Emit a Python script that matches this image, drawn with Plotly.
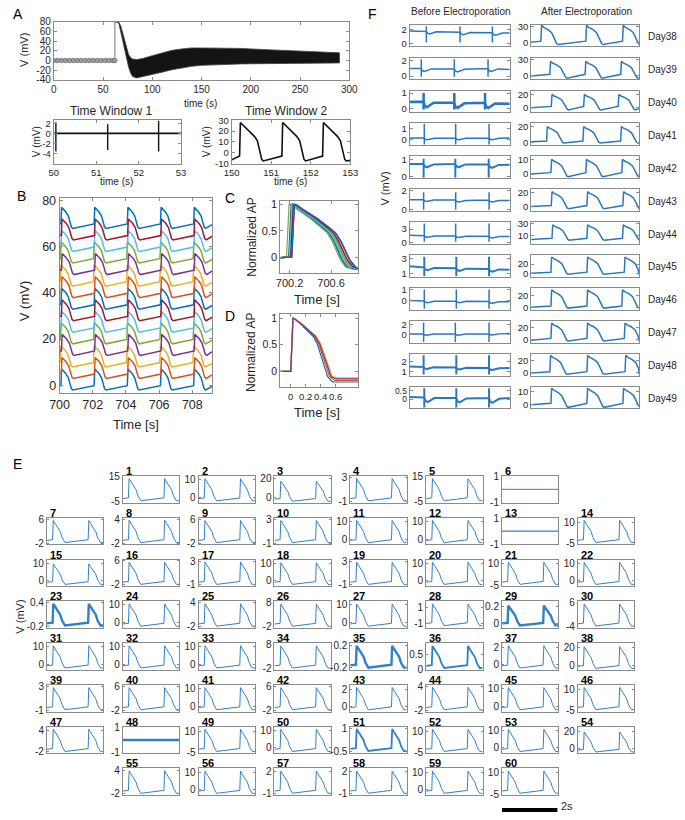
import plotly.graph_objects as go

W, H = 685, 820
FONT = "Liberation Sans, Arial, Helvetica, sans-serif"
TXT = "#262626"
AXC = "#8a8a8a"
FBLUE = "#2878be"
EBLUE = "#2f80c6"
MCOL = ["#0072BD", "#D95319", "#EDB120", "#7E2F8E", "#77AC30", "#4DBEEE", "#A2142F"]

# ---------------- Panel A : overview ----------------
A_pre_t = [0, 4, 8, 12, 16, 20, 24, 28, 32, 36, 40, 44, 48, 52, 56, 60, 62]
A_pre_v = [0, 0, 0, 0, 0, 0, 0, 0, 0, 0, 0, 0, 0, 0, 0, 0, 0]
A_jump_t = [62, 62, 66.5]
A_jump_v = [0, 79, 79]
A_env_t = [64, 66, 68, 70, 72, 74, 76, 78, 80, 84, 90, 100, 110, 120, 130, 140, 150, 170, 190, 210, 230, 250, 270, 290]
A_env_hi = [79, 79, 72, 56, 38, 22, 12, 6, 3, 2, 4, 10, 16, 21, 24, 26, 26, 26, 25, 23, 21, 19, 17, 16]
A_env_lo = [79, 77, 58, 40, 22, 4, -14, -26, -33, -36, -34, -29, -24, -19, -15, -12, -10, -8, -7, -6.5, -6, -5.5, -5, -5]
A_xticks = [0, 50, 100, 150, 200, 250, 300]
A_yticks = [-40, -20, 0, 20, 40, 60, 80]

# Time window 1
W1_spike_t = [50.05, 51.27, 52.47]
W1_spike_top = [2.2, 1.8, 2.5]
W1_spike_bot = [-3.6, -3.3, -3.6]
W1_base_t = [50, 53]
W1_base_v = [0, 0]
W1_xticks = [50, 51, 52, 53]
W1_yticks = [-4, -2, 0, 2]

# Time window 2
W2_ups = [150.2, 151.27, 152.3]
W2_beat_dt = [0, 0.02, 0.1, 0.25, 0.38, 0.45, 0.5, 0.56, 0.6]
W2_beat_v = [-3, 28, 25, 20, 15, 11, 3, -6, -7.5]
W2_start, W2_end = -6.5, -7
W2_xticks = [150, 151, 152, 153]
W2_yticks = [-10, 0, 10, 20, 30]

# ---------------- Panel B ----------------
B_base = [0, 5, 10, 15, 20, 25, 30, 35, 40, 45, 50, 55, 60, 65, 70]
B_ups = [700.08, 702.08, 704.08, 706.08, 708.08]
B_beat_dt = [0, 0.04, 0.12, 0.3, 0.45, 0.55, 0.63, 0.72]
B_beat_dv = [0, 7.0, 6.4, 5.0, 3.2, 0.5, -1.5, -2.1]
B_pre_dv = -0.2
B_shift = [0.0, 0.02, -0.04, 0.03, -0.03, 0.01, 0.02, 0.0, 0.02, -0.04, 0.03, -0.03, 0.01, 0.02, 0.0]
B_stretch = [1.0, 1.02, 1.05, 1.06, 1.05, 1.0, 1.03, 1.0, 1.02, 1.05, 1.06, 1.05, 1.0, 1.03, 1.0]
B_xticks = [700, 702, 704, 706, 708]
B_yticks = [0, 20, 40, 60, 80]

# ---------------- Panel C ----------------
C_up = [700.2, 700.21, 700.2, 700.22, 700.17, 700.21, 700.2, 700.19, 700.21, 700.2, 700.22, 700.21, 700.2, 700.21, 700.22]
C_stretch = [0.95, 0.97, 1.0, 1.05, 0.98, 0.96, 1.04, 0.97, 1.0, 1.02, 1.06, 0.99, 0.98, 1.03, 1.05]
C_beat_dt = [0, 0.025, 0.05, 0.12, 0.24, 0.34, 0.4, 0.45, 0.49, 0.53, 0.58, 0.65]
C_beat_v = [0, 1.0, 0.98, 0.88, 0.72, 0.56, 0.46, 0.3, 0.12, -0.05, -0.18, -0.22]
C_xticks = [700.2, 700.6]
C_yticks = [0, 0.5, 1]

# ---------------- Panel D ----------------
D_colors = ["#0072BD", "#D95319", "#EDB120", "#7E2F8E"]
D_stretch = [0.93, 0.98, 1.05, 1.02]
D_end = [-0.2, -0.17, -0.12, -0.14]
D_beat_dt = [0, 0.03, 0.06, 0.15, 0.25, 0.32, 0.38, 0.43, 0.48, 0.53, 0.6]
D_beat_v = [0, 1.0, 0.98, 0.88, 0.76, 0.66, 0.52, 0.32, 0.08, -0.1, -0.16]
D_xticks = [0, 0.2, 0.4, 0.6]
D_yticks = [0, 0.5, 1]

# ---------------- Panel F ----------------
F_days = ["Day38", "Day39", "Day40", "Day41", "Day42", "Day43", "Day44", "Day45", "Day46", "Day47", "Day48", "Day49"]
F_L_ticks = [[0, 2], [0, 2], [0, 1], [0, 1], [0, 1], [0, 2], [0, 3], [1, 3], [0, 1], [0, 2], [1, 2], [0, 0.5]]
F_L_range = [[-0.35, 2.7], [-0.43, 2.43], [-0.26, 1.17], [-0.5, 1.5], [-0.08, 1.19], [-0.17, 2.17],
             [-0.36, 4.57], [0.59, 3.41], [-0.83, 1.11], [-1.75, 2.75], [0.57, 2.83], [-0.56, 0.74]]
F_L_spk_t = [[0.5, 1.51, 2.48], [0.35, 1.34, 2.35], [0.42, 1.34, 2.26], [0.44, 1.38, 2.38],
             [0.42, 1.37, 2.37], [0.42, 1.38, 2.38], [0.44, 1.38, 2.38], [0.44, 1.4, 2.38],
             [0.44, 1.4, 2.38], [0.42, 1.37, 2.38], [0.42, 1.4, 2.38], [0.44, 1.4, 2.38]]
F_L_base = [[1.8, 1.75, 1.65, 1.58, 1.55], [1.0, 1.0, 0.95, 1.0, 0.85], [0.42, 0.42, 0.38, 0.37, 0.3],
            [0.15, 0.15, 0.15, 0.15, 0.15], [0.75, 0.75, 0.75, 0.72, 0.7], [1.05, 1.05, 1.0, 1.0, 0.95],
            [1.6, 1.5, 1.45, 1.35, 1.3], [1.95, 1.8, 1.7, 1.6, 1.5], [0.0, -0.05, -0.05, -0.1, -0.12],
            [0.05, 0.05, 0.05, 0.1, 0.15], [1.5, 1.45, 1.4, 1.35, 1.35], [0.12, 0.1, 0.08, 0.06, 0.07]]
F_L_dip = [0.35, 0.4, 0.35, 0.15, 0.2, 0.2, 0.35, 0.35, 0.15, 0.25, 0.2, 0.28]
F_L_top = [2.5, 2.2, 1.0, 1.45, 1.05, 1.85, 4.3, 3.2, 0.97, 2.4, 2.67, 0.65]
F_L_bot = [0.2, -0.1, -0.08, -0.45, -0.05, -0.05, 0.15, 0.65, -0.75, -1.6, 0.67, -0.5]
F_L_lw = [1.5, 1.5, 2.6, 1.5, 2.0, 1.5, 1.5, 2.0, 1.5, 1.5, 2.0, 2.0]
F_dip_dt = [0.03, 0.1, 0.3]
F_dip_frac = [0.7, 1.0, 0.15]

F_R_ticks = [[0, 30], [0, 30], [0, 20], [0, 20], [0, 10], [0, 20], [10, 30], [0, 20], [0, 20], [0, 20], [0, 20], [0, 10]]
F_R_range = [[-8, 33.3], [-7.2, 33], [-7, 26.5], [-3.75, 24], [-2.7, 12.2], [-5.5, 24.3],
             [-4.2, 32], [-6.7, 39], [-4.2, 32.6], [-5, 31], [-4, 30], [-2.8, 13.5]]
F_R_ups = [[0.27, 1.52, 2.54], [0.52, 1.5, 2.49], [0.56, 1.46, 2.42], [0.43, 1.44, 2.49],
           [0.55, 1.52, 2.52], [0.56, 1.55, 2.55], [0.58, 1.55, 2.54], [0.55, 1.55, 2.59],
           [0.55, 1.55, 2.52], [0.55, 1.55, 2.59], [0.52, 1.55, 2.61], [0.55, 1.55, 2.55]]
F_R_start = [0, -1, 0, 0.5, 0, 0.5, 3, 1, 0, -1, 0, 0]
F_R_pre = [2, 2, 2, 1.5, 1, 2, 5, 3, 2, 2, 2, 1]
F_R_peak = [32, 26, 20.5, 20, 10.2, 21, 27.5, 35, 29.5, 27.5, 27.5, 12.3]
F_R_trough = [-4.5, -5, -3.5, -1, -1.8, -2.5, 2, -1.5, -1.5, -2.5, -2, -2]
F_R_end = [-4, -4, -1.5, -1, -1.8, -2.5, 2, -1.5, -1.5, -2, -2, -1.5]
F_beat_dt = [0, 0.02, 0.08, 0.2, 0.3, 0.38, 0.44, 0.48]
F_beat_s = [0, 1.0, 0.9, 0.78, 0.62, 0.3, 0.05, 0.0]

# ---------------- Panel E ----------------
E_tick_lo = [-5, 0, 0, -1, -5, -1,
             -2, -2, -2, -1, 0, 0, -1, -5,
             0, -2, -1, 0, -1, 0, -5, 0,
             -0.2, 0, -2, -2, 0, -1, 0, -4,
             0, 0, 0, -2, -0.2, 0, 0, 0,
             -1, -2, 0, -2, 0, -2, 0, -5,
             -2, -1, -5, 0, -0.5, -5, 0, 0,
             -2, 0, -1, -1, 0, -5]
E_tick_hi = [15, 10, 20, 3, 15, 1,
             6, 4, 6, 3, 10, 10, 1, 10,
             10, 6, 3, 10, 3, 10, 10, 10,
             0.4, 10, 4, 8, 10, 1, 0.2, 6,
             10, 10, 10, 8, 0.2, 0.5, 2, 20,
             3, 6, 10, 6, 2, 4, 10, 10,
             4, 1, 10, 10, 1, 10, 10, 20,
             4, 10, 2, 2, 10, 10]
E_ylo = [-5.5, -3, -5.5, -1.2, -5.5, -1.03,
         -2.4, -2.3, -2.4, -1.2, -3, -3, -1.03, -5.5,
         -3, -2.4, -1.2, -3, -1.2, -3, -5.5, -3,
         -0.23, -3, -2.3, -2.4, -3, -1.6, -0.05, -4.4,
         -3, -3, -3, -2.4, -0.25, -0.01, -0.6, -5,
         -1.2, -2.4, -3, -2.4, -0.6, -2.3, -3, -5.5,
         -2.5, -1.03, -5.5, -3, -0.6, -5.5, -3, -5,
         -2.3, -3, -1.15, -1.15, -3, -5.5]
E_yhi = [15.5, 12, 23, 3.2, 15.5, 1.03,
         6.4, 4.4, 6.4, 3.3, 12, 12, 1.03, 13,
         12, 6.4, 3.3, 12, 3.3, 12, 13, 12,
         0.43, 12, 4.4, 8.4, 12, 1.8, 0.26, 6.4,
         12, 12, 12, 8.4, 0.25, 0.9, 2.5, 25,
         3.3, 6.4, 12, 6.4, 2.5, 4.4, 12, 13,
         5, 1.03, 13, 12, 1.15, 13, 12, 25,
         4.4, 12, 2.4, 2.4, 12, 13]
E_peak = [13.4, 10.5, 17.5, 2.8, 13.4, 0,
          5.5, 3.8, 5.5, 2.85, 10.5, 10.5, 0, 11.2,
          9.5, 5.5, 2.9, 10.2, 2.85, 10.5, 11.2, 10.5,
          0.37, 10.5, 3.8, 7.3, 10.5, 1.45, 0.21, 5.3,
          10.5, 10.5, 10.5, 7.3, 0.2, 0.8, 2.2, 21,
          2.85, 5.5, 10.5, 5.5, 2.2, 3.8, 10.5, 11.2,
          4.3, 0, 11.2, 10.5, 1.0, 11.2, 10.5, 19,
          3.8, 10.5, 2.05, 2.05, 10.5, 11.2]
E_trough = [-4.0, -2.0, -4.0, -0.9, -4.0, 0,
            -1.8, -1.85, -1.8, -0.9, -2.0, -2.0, 0, -4.2,
            -2.0, -1.8, -0.9, -2.0, -0.9, -2.0, -4.2, -2.0,
            -0.17, -2.0, -1.85, -1.7, -2.0, -1.3, -0.02, -3.6,
            -2.0, -2.0, -2.0, -1.7, -0.21, 0.05, -0.4, -3.5,
            -0.9, -1.8, -2.0, -1.8, -0.4, -1.85, -2.0, -4.2,
            -2.0, 0, -4.2, -2.0, -0.45, -4.2, -2.0, -3.5,
            -1.85, -2.0, -0.9, -0.9, -2.0, -4.2]
E_flat = [6, 13, 48]
E_lw = {23: 2.4, 29: 2.4, 35: 2.4, 36: 1.8, 51: 1.8, 48: 2.4, 6: 1.0, 13: 1.2}
E_ups = [0.2, 1.46]
E_beat_dt = [0, 0.025, 0.08, 0.18, 0.27, 0.34, 0.4, 0.44]
E_beat_s = [0.13, 1.0, 0.88, 0.7, 0.5, 0.22, 0.04, 0.0]
E_start_s, E_end_s = 0.1, 0.0

# ======================================================================
layout = dict(width=W, height=H, autosize=False, margin=dict(l=0, r=0, t=0, b=0, pad=0),
              paper_bgcolor="white", plot_bgcolor="white", showlegend=False,
              font=dict(family=FONT, color=TXT, size=10))
traces, annotations, shapes = [], [], []
naxes = [0]


def fmt(v):
    return "%g" % v


def add_axes(x0, x1, y0, y1, xr, yr, xt=None, yt=None, fs=10, tl=3, xfs=None):
    naxes[0] += 1
    n = naxes[0]
    sfx = "" if n == 1 else str(n)

    def base(size):
        return dict(showgrid=False, zeroline=False, showline=True, linecolor=AXC, linewidth=1,
                    mirror="ticks", ticks="inside", ticklen=tl, tickwidth=1, tickcolor=AXC,
                    tickfont=dict(size=size, color=TXT, family=FONT), fixedrange=True,
                    tickmode="array", tickangle=0)
    xa, ya = base(xfs if xfs else fs), base(fs)
    xa.update(domain=[x0 / W, x1 / W], range=list(xr), anchor="y" + sfx)
    ya.update(domain=[1 - y1 / H, 1 - y0 / H], range=list(yr), anchor="x" + sfx)
    if xt is None:
        xa.update(tickvals=[], showticklabels=False)
    else:
        xa.update(tickvals=list(xt), ticktext=[fmt(v) for v in xt])
    if yt is None:
        ya.update(tickvals=[], showticklabels=False)
    else:
        ya.update(tickvals=list(yt), ticktext=[fmt(v) for v in yt])
    layout["xaxis" + sfx] = xa
    layout["yaxis" + sfx] = ya
    return ("x" + sfx, "y" + sfx)


def line(ax, xs, ys, color, width=1.0, **kw):
    d = dict(x=xs, y=ys, xaxis=ax[0], yaxis=ax[1], mode="lines",
             line=dict(color=color, width=width), hoverinfo="skip")
    d.update(kw)
    traces.append(go.Scatter(**d))


def train(t0, t1, v0, v1, ups, beat_dt, beat_v):
    xs, ys = [t0], [v0]
    for u in ups:
        for dt, v in zip(beat_dt, beat_v):
            if t0 <= u + dt < t1:
                xs.append(u + dt)
                ys.append(v)
    xs.append(t1)
    ys.append(v1)
    return xs, ys


def text(x, y, s, size=11, color="#000000", xa="center", ya="middle", angle=0, bold=False, yshift=0):
    annotations.append(dict(x=x / W, y=1 - y / H, xref="paper", yref="paper",
                            text=("<b>%s</b>" % s) if bold else s, showarrow=False,
                            font=dict(size=size, color=color, family=FONT),
                            xanchor=xa, yanchor=ya, textangle=angle, yshift=yshift))


# ---------------- Panel A ----------------
ax = add_axes(45, 349, 16, 75, [0, 300], [-40, 80], A_xticks, A_yticks, fs=10)
line(ax, A_pre_t, A_pre_v, "#333333", 1.0, mode="lines+markers",
     marker=dict(symbol="circle", size=4.5, color="#a0a0a0", line=dict(color="#555555", width=0.6)))
line(ax, A_jump_t, A_jump_v, "#9a9a9a", 1.4)
line(ax, A_env_t + A_env_t[::-1], A_env_hi + A_env_lo[::-1], "#444444", 0.8,
     fill="toself", fillcolor="#141414")
text(8, 8, "A", 14)
text(15, 45, "V (mV)", 11, TXT, angle=-90)
text(196, 99, "time (s)", 10, TXT)

ax = add_axes(45, 176, 116, 160, [50, 53], [-6, 2.6], W1_xticks, W1_yticks, fs=9.5)
line(ax, W1_base_t, W1_base_v, "#111111", 1.6)
sx, sy = [], []
for t, a, b in zip(W1_spike_t, W1_spike_top, W1_spike_bot):
    sx += [t, t, None]
    sy += [b, a, None]
line(ax, sx, sy, "#111111", 1.4)
text(104, 107, "Time Window 1", 12, TXT)
text(28, 138, "V (mV)", 10, TXT, angle=-90)
text(110, 178, "time (s)", 10, TXT)

ax = add_axes(228, 350, 116, 160, [150, 153], [-10, 30], W2_xticks, W2_yticks, fs=9.5)
xs, ys = train(150, 153, W2_start, W2_end, W2_ups, W2_beat_dt, W2_beat_v)
line(ax, xs, ys, "#111111", 1.6)
text(284, 107, "Time Window 2", 12, TXT)
text(203, 138, "V (mV)", 10, TXT, angle=-90)
text(289, 178, "time (s)", 10, TXT)

# ---------------- Panel B ----------------
ax = add_axes(51, 208, 195, 393, [700, 709.2], [-3.5, 81], B_xticks, B_yticks, fs=12.5)
for i, b in enumerate(B_base):
    dts = [d * B_stretch[i] for d in B_beat_dt]
    vals = [b + B_pre_dv] + [b + v for v in B_beat_dv[1:]]
    ups = [u + B_shift[i] for u in B_ups]
    xs, ys = train(700, 709.2, b, b - 0.5, ups, dts, vals)
    line(ax, xs, ys, MCOL[i % 7], 1.5)
text(12, 193, "B", 14)
text(15, 300, "V (mV)", 13, TXT, angle=-90)
text(130, 425, "Time [s]", 13, TXT)

# ---------------- Panel C ----------------
ax = add_axes(278, 358, 198, 271, [700.11, 700.86], [-0.3, 1.06], C_xticks, C_yticks, fs=11)
for i in range(15):
    dts = [d * C_stretch[i] for d in C_beat_dt]
    xs, ys = train(700.11, 700.86, -0.01, C_beat_v[-1], [C_up[i]], dts, C_beat_v)
    line(ax, xs, ys, MCOL[i % 7], 1.2)
text(226, 195, "C", 14)
text(248, 235, "Normalized AP", 12, TXT, angle=-90)
text(316, 298, "Time [s]", 13, TXT)

# ---------------- Panel D ----------------
ax = add_axes(278, 358, 313, 387, [-0.14, 0.9], [-0.3, 1.07], D_xticks, D_yticks, fs=10.5, xfs=9.5)
for i, c in enumerate(D_colors):
    dts = [d * D_stretch[i] for d in D_beat_dt]
    vals = D_beat_v[:-1] + [D_end[i]]
    xs, ys = train(-0.14, 0.9, 0, D_end[i], [0], dts, vals)
    line(ax, xs, ys, c, 1.2)
text(226, 315, "D", 14)
text(248, 352, "Normalized AP", 12, TXT, angle=-90)
text(316, 413, "Time [s]", 13, TXT)

# ---------------- Panel F ----------------
text(373, 8, "F", 14)
text(464, 6, "Before Electroporation", 10, TXT)
text(593, 6, "After Electroporation", 10, TXT)
text(386, 185, "V (mV)", 11, TXT, angle=-90)
for i in range(12):
    top = 19 + 33.4 * i
    ax = add_axes(411, 514, top, top + 22, [0, 3], F_L_range[i], None, F_L_ticks[i],
                  fs=(8.5 if i == 11 else 9.5))
    bl = F_L_base[i]
    xs, ys = [0], [bl[0]]
    for k, ts in enumerate(F_L_spk_t[i]):
        b = bl[k + 1]
        xs += [ts, ts, ts, ts]
        ys += [b, F_L_top[i], F_L_bot[i], b]
        for dt, fr in zip(F_dip_dt, F_dip_frac):
            xs.append(ts + dt)
            ys.append(b - fr * F_L_dip[i])
    xs.append(3)
    ys.append(bl[4])
    line(ax, xs, ys, FBLUE, F_L_lw[i])

    ax = add_axes(536, 647, top, top + 22, [0, 3], F_R_range[i], None, F_R_ticks[i], fs=9.5)
    vals = [F_R_pre[i]] + [F_R_trough[i] + s * (F_R_peak[i] - F_R_trough[i]) for s in F_beat_s[1:]]
    xs, ys = train(0, 3, F_R_start[i], F_R_end[i], F_R_ups[i], F_beat_dt, vals)
    line(ax, xs, ys, FBLUE, 1.5)
    text(654, top + 12, F_days[i], 10, TXT, xa="left")

# ---------------- Panel E ----------------
text(8, 465, "E", 14)
text(10, 620, "V (mV)", 11, TXT, angle=-90)
positions = []
for c in range(1, 7):
    positions.append((0, c))
for r in range(1, 7):
    for c in range(8):
        positions.append((r, c))
for c in range(1, 7):
    positions.append((7, c))
for k in range(60):
    n = k + 1
    r, c = positions[k]
    x0 = 38 + 78 * c
    y0 = 477 + 42.4 * r
    ax = add_axes(x0, x0 + 58, y0, y0 + 27, [0, 2], [E_ylo[k], E_yhi[k]], None,
                  [E_tick_lo[k], E_tick_hi[k]], fs=10, tl=2)
    lw = E_lw.get(n, 1.0)
    if n in E_flat:
        line(ax, [0, 2], [0, 0], EBLUE, lw)
    else:
        lo, hi = E_trough[k], E_peak[k]
        vals = [lo + s * (hi - lo) for s in E_beat_s]
        xs, ys = train(0, 2, lo + E_start_s * (hi - lo), lo + E_end_s * (hi - lo), E_ups, E_beat_dt, vals)
        line(ax, xs, ys, EBLUE, lw)
    text(x0 + 1, y0, str(n), 11, "#000000", xa="left", ya="bottom", bold=True, yshift=-3)

# scale bar
shapes.append(dict(type="line", xref="paper", yref="paper", x0=506 / W, x1=563 / W,
                   y0=1 - 816 / H, y1=1 - 816 / H, line=dict(color="black", width=4)))
text(565, 820, "2s", 11, TXT, xa="left", ya="bottom")

layout["annotations"] = annotations
layout["shapes"] = shapes
fig = go.Figure(data=traces, layout=layout)
fig.write_html("out.html", config={"displayModeBar": False, "staticPlot": True},
               post_script="document.body.style.margin='0px';document.body.style.padding='0px';")
